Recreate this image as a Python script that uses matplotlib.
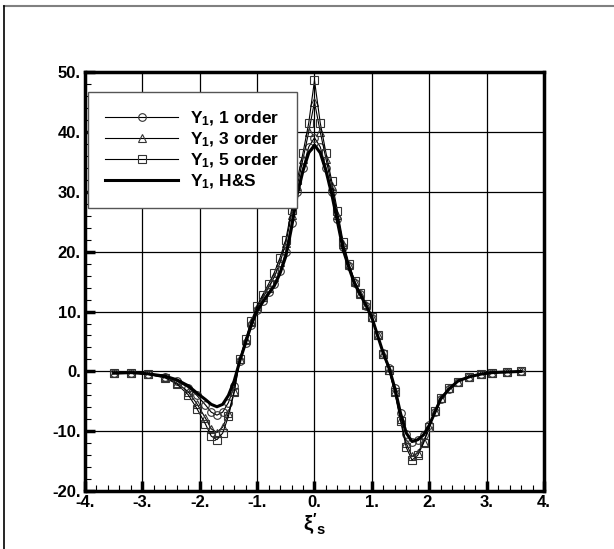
import matplotlib
matplotlib.use("Agg")
import matplotlib.pyplot as plt
from matplotlib.lines import Line2D
from matplotlib.ticker import MultipleLocator

plt.rcParams["font.family"] = ["Liberation Sans", "DejaVu Sans"]
plt.rcParams["font.weight"] = "bold"
plt.rcParams["mathtext.fontset"] = "custom"
plt.rcParams["mathtext.rm"] = "Liberation Sans:bold"
plt.rcParams["mathtext.it"] = "Liberation Sans:bold"
plt.rcParams["mathtext.bf"] = "Liberation Sans:bold"
plt.rcParams["mathtext.default"] = "rm"

# shared abscissa (xi'_s)
xs = [-3.5, -3.2, -2.9, -2.6, -2.4, -2.2, -2.05, -1.9, -1.8, -1.7, -1.6, -1.5,
      -1.4, -1.3, -1.2, -1.1, -1.0, -0.9, -0.8, -0.7, -0.6, -0.5, -0.4, -0.3,
      -0.2, -0.1, 0.0, 0.1, 0.2, 0.3, 0.4, 0.5, 0.6, 0.7, 0.8, 0.9, 1.0, 1.1,
      1.2, 1.3, 1.4, 1.5, 1.6, 1.7, 1.8, 1.9, 2.0, 2.1, 2.2, 2.35, 2.5, 2.7,
      2.9, 3.1, 3.35, 3.6]

y_order1 = [-0.3, -0.2, -0.4, -0.9, -1.6, -2.7, -4.0, -5.6, -6.8, -7.3, -6.8, -5.2,
            -2.5, 1.8, 4.8, 7.8, 10.2, 11.8, 13.2, 14.6, 16.8, 20.0, 24.8, 30.0,
            34.0, 37.5, 39.0, 37.5, 34.0, 30.0, 25.5, 20.8, 17.6, 14.8, 12.9, 11.0,
            9.0, 6.0, 3.0, 0.5, -2.8, -7.0, -10.4, -11.8, -11.5, -10.7, -9.0, -6.8,
            -4.6, -2.9, -1.7, -0.9, -0.45, -0.2, -0.1, 0.0]

y_order3 = [-0.3, -0.2, -0.5, -1.0, -1.9, -3.4, -5.4, -7.8, -9.6, -10.2, -9.3, -7.0,
            -3.3, 2.0, 5.2, 8.2, 10.6, 12.4, 14.0, 15.8, 18.2, 21.4, 26.2, 31.0,
            35.5, 40.0, 45.0, 40.0, 35.5, 31.0, 26.2, 21.2, 17.8, 15.0, 13.0, 11.1,
            9.1, 6.0, 2.9, 0.3, -3.3, -8.0, -12.0, -14.2, -13.6, -11.8, -9.2, -6.6,
            -4.5, -2.8, -1.7, -0.9, -0.45, -0.2, -0.1, 0.0]

y_order5 = [-0.3, -0.2, -0.5, -1.1, -2.1, -3.9, -6.2, -8.8, -10.8, -11.4, -10.3, -7.5,
            -3.5, 2.1, 5.4, 8.5, 10.9, 12.8, 14.6, 16.5, 19.0, 22.0, 27.0, 32.0,
            36.5, 41.5, 48.6, 41.5, 36.5, 31.8, 26.8, 21.6, 18.0, 15.1, 13.1, 11.2,
            9.1, 6.0, 2.9, 0.2, -3.5, -8.3, -12.7, -14.8, -14.0, -12.0, -9.3, -6.6,
            -4.4, -2.8, -1.7, -0.9, -0.45, -0.2, -0.1, 0.0]

y_hs = [-0.3, -0.2, -0.4, -0.8, -1.4, -2.4, -3.6, -4.7, -5.5, -5.9, -5.5, -4.0,
        -1.6, 1.8, 4.8, 7.8, 10.1, 11.6, 13.0, 14.3, 16.4, 19.2, 24.0, 29.6,
        33.5, 36.5, 37.8, 36.5, 33.5, 29.6, 25.0, 20.3, 17.3, 14.6, 12.8, 11.0,
        9.0, 6.0, 3.0, 0.6, -2.8, -7.0, -10.3, -11.7, -11.4, -10.6, -9.0, -6.8,
        -4.6, -2.9, -1.6, -0.9, -0.45, -0.2, -0.1, 0.0]

series = [
    (y_order1, "o", r"$Y_1$, 1 order"),
    (y_order3, "^", r"$Y_1$, 3 order"),
    (y_order5, "s", r"$Y_1$, 5 order"),
]

fig = plt.figure(figsize=(6.14, 5.49), dpi=100)
ax = fig.add_axes([0.1384, 0.1053, 0.7476, 0.7636])

for ys, mk, lab in series:
    ax.plot(xs, ys, color="black", lw=0.8, marker=mk, ms=5.5, mfc="none",
            mec="#333333", mew=0.8, label=lab, zorder=3)
ax.plot(xs, y_hs, color="black", lw=2.2, label=r"$Y_1$, H&S", zorder=4)

ax.set_xlim(-4, 4)
ax.set_ylim(-20, 50)
ax.xaxis.set_minor_locator(MultipleLocator(0.2))
ax.yaxis.set_minor_locator(MultipleLocator(2))
ax.set_xticks(range(-4, 5))
ax.set_xticklabels([f"{v}." for v in range(-4, 5)])
ax.set_yticks(range(-20, 51, 10))
ax.set_yticklabels([f"{v}." for v in range(-20, 51, 10)])
ax.tick_params(which="major", direction="in", length=7, width=2.5,
               labelsize=12, pad=3)
ax.tick_params(which="minor", direction="in", length=4, width=0.8)
ax.tick_params(top=False, right=False)
for sp in ax.spines.values():
    sp.set_linewidth(2.5)
ax.grid(True, which="major", color="black", lw=0.9)
ax.set_axisbelow(True)

ax.set_xlabel(r"$\xi'_s$", fontsize=15, labelpad=1)

leg = ax.legend(loc="upper left", bbox_to_anchor=(0.006, 0.952),
                fontsize=12.5, frameon=True, fancybox=False, handlelength=4.2,
                borderpad=1.0, labelspacing=0.15, handletextpad=0.7,
                borderaxespad=0)
leg.get_frame().set_edgecolor("#555555")
leg.get_frame().set_linewidth(1.0)
leg.get_frame().set_alpha(1)

# page frame (top and left edges only)
fig.add_artist(Line2D([4 / 614, 1], [1 - 6 / 549, 1 - 6 / 549],
                      transform=fig.transFigure, color="#808080", lw=1.5))
fig.add_artist(Line2D([4 / 614, 4 / 614], [0, 1 - 6 / 549],
                      transform=fig.transFigure, color="black", lw=1.2))

fig.savefig("out.png", dpi=100)
